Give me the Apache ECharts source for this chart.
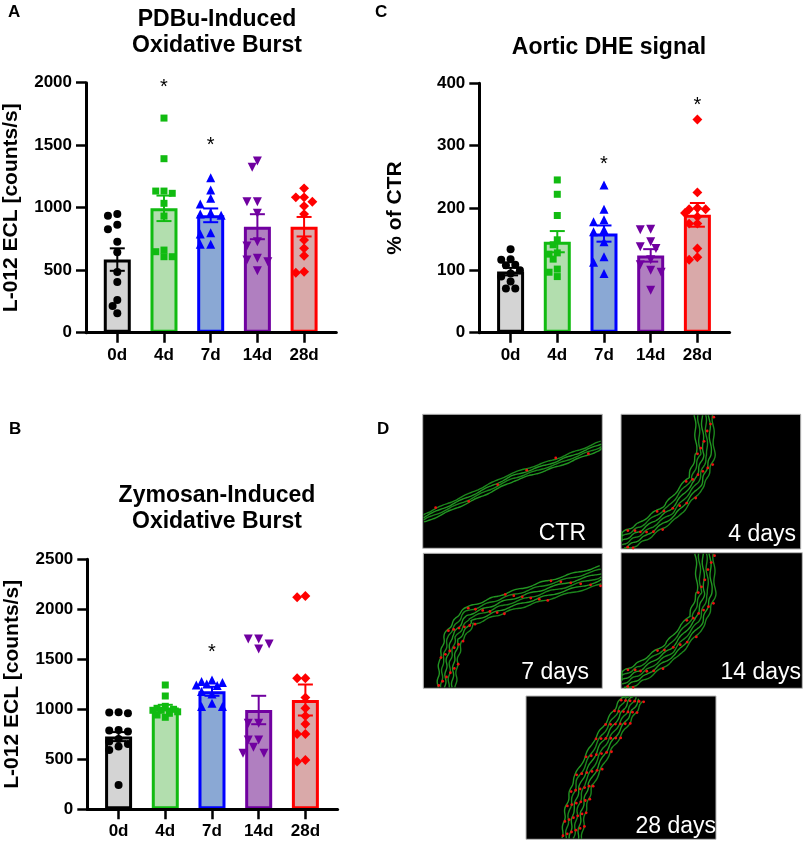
<!DOCTYPE html>
<html>
<head>
<meta charset="utf-8">
<script src="https://cdn.jsdelivr.net/npm/echarts@6/dist/echarts.min.js"></script>
<style>
html, body { margin: 0; padding: 0; background: #fff; }
#main { width: 803px; height: 841px; }
</style>
</head>
<body>
<div id="main"></div>
<script>
var groups = ['0d', '4d', '7d', '14d', '28d'];

// A: PDBu-induced oxidative burst (counts/s)
var pdbu0d = [949, 936, 864, 827, 728, 643, 485, 405, 261, 213, 155];
var pdbu4d = [1717, 1392, 1133, 1133, 1115, 1035, 933, 661, 648, 608, 608];
var pdbu7d = [1240, 1141, 1075, 1029, 960, 950, 940, 800, 789, 707, 707];
var pdbu14d = [1373, 1323, 1048, 1048, 955, 728, 693, 595, 581, 568, 496];
var pdbu28d = [1155, 1083, 1083, 1048, 1013, 949, 741, 675, 616, 488, 480];
var pdbuMean = [585, 995, 939, 848, 848];
var pdbuSem = [90, 102, 55, 100, 78];
var pdbuStars = [[1, 1990], [2, 1533]];

// C: aortic DHE signal (% of CTR)
var dhe0d = [134, 118, 117, 109, 108, 100, 95, 90, 82, 71, 71];
var dhe4d = [245, 222, 188, 149, 141, 128, 126, 118, 102, 97, 90];
var dhe7d = [237, 198, 181, 178, 165, 162, 146, 122, 113, 95];
var dhe14d = [166, 165, 146, 138, 135, 117, 109, 100, 97, 68];
var dhe28d = [342, 225, 200, 198, 198, 192, 186, 175, 175, 135, 121, 117];
var dheMean = [98, 146, 159, 124, 189];
var dheSem = [6, 17, 13, 10, 19];
var dheStars = [[2, 277], [4, 371]];

// B: zymosan-induced oxidative burst (counts/s)
var zym0d = [970, 967, 960, 793, 787, 777, 703, 677, 653, 627, 593, 243];
var zym4d = [1243, 1133, 1030, 1010, 1000, 990, 990, 975, 960, 943, 920];
var zym7d = [1293, 1277, 1267, 1253, 1243, 1237, 1177, 1153, 1060, 1027, 1027];
var zym14d = [1703, 1703, 1653, 1603, 860, 860, 693, 693, 620, 560, 560];
var zym28d = [2133, 2120, 1310, 1310, 1117, 1010, 933, 853, 753, 753, 493, 477];
var zymMean = [727, 1017, 1180, 993, 1093];
var zymSem = [45, 28, 45, 142, 155];
var zymStars = [[2, 1610]];

var FONT = '"Liberation Sans", Arial, Helvetica, sans-serif';
var lineCol = ['#000000', '#11bb11', '#0000ff', '#7000a0', '#ff0000'];
var fillCol = ['#d4d4d4', '#b2deae', '#8aa8d4', '#b07fc0', '#d9a9a9'];
var symbols = ['circle', 'rect', 'triangle', 'triangle', 'rect'];
var symRot = [0, 0, 0, 180, 45];
var symSize = [8, 7, 9, 9, 7];

var X_MIN = -0.67, X_MAX = 4.69, BAND = 46.7;
var PLOT_W = (X_MAX - X_MIN) * BAND;

var myChart = echarts.init(document.getElementById('main'));

// spread points sideways a little (GraphPad style), overlap allowed past the edges
function swarm(vals, gi, pxPerUnit, size) {
    var placed = [];
    var out = [];
    var sorted = vals.slice().sort(function (a, b) { return b - a; });
    var steps = [0];
    for (var k = 1; k <= 3; k++) {
        steps.push(-k * size * 0.55, k * size * 0.55);
    }
    var minD = size * 0.85;
    sorted.forEach(function (v) {
        var y = v * pxPerUnit;
        var best = 0, bestD = -1;
        for (var s = 0; s < steps.length; s++) {
            var dx = steps[s];
            var d = 1e9;
            for (var p = 0; p < placed.length; p++) {
                var ddx = placed[p][0] - dx, ddy = placed[p][1] - y;
                d = Math.min(d, Math.sqrt(ddx * ddx + ddy * ddy));
            }
            if (d >= minD) { best = dx; bestD = d; break; }
            if (d > bestD) { bestD = d; best = dx; }
        }
        placed.push([best, y]);
        out.push([gi + best / BAND, v]);
    });
    return out;
}

function errRender(params, api) {
    var x = api.value(0), m = api.value(1), s = api.value(2);
    var top = api.coord([x, m + s]);
    var bot = api.coord([x, m - s]);
    var half = 7.5;
    var st = { stroke: api.visual('color'), lineWidth: 2 };
    return {
        type: 'group',
        children: [
            { type: 'line', shape: { x1: top[0], y1: top[1], x2: bot[0], y2: bot[1] }, style: st },
            { type: 'line', shape: { x1: top[0] - half, y1: top[1], x2: top[0] + half, y2: top[1] }, style: st },
            { type: 'line', shape: { x1: bot[0] - half, y1: bot[1], x2: bot[0] + half, y2: bot[1] }, style: st }
        ]
    };
}

function starRender(params, api) {
    var p = api.coord([api.value(0), api.value(1)]);
    return {
        type: 'text',
        style: {
            text: '*', x: p[0], y: p[1] + 4,
            textAlign: 'center', textVerticalAlign: 'middle',
            align: 'center', verticalAlign: 'middle',
            fill: '#000', fontSize: 20, fontFamily: FONT
        }
    };
}

function xAx(gi) {
    return {
        gridIndex: gi, type: 'value', min: X_MIN, max: X_MAX, z: 5,
        axisLine: { show: true, onZero: false, lineStyle: { color: '#000', width: 3 } },
        axisTick: { show: true, customValues: [0, 1, 2, 3, 4], length: 10, lineStyle: { color: '#000', width: 2.5 } },
        axisLabel: {
            customValues: [0, 1, 2, 3, 4],
            formatter: function (v) { return groups[Math.round(v)]; },
            margin: 14, color: '#000', fontSize: 17, fontWeight: 'bold', fontFamily: FONT
        },
        splitLine: { show: false }
    };
}

function yAx(gi, max, step, name, gap) {
    return {
        gridIndex: gi, type: 'value', min: 0, max: max, interval: step, z: 5,
        name: name, nameLocation: 'middle', nameGap: gap, nameRotate: 90,
        nameTextStyle: { fontSize: 21, fontWeight: 'bold', color: '#000', fontFamily: FONT },
        axisLine: { show: true, onZero: false, lineStyle: { color: '#000', width: 3 } },
        axisTick: { show: true, length: 10, lineStyle: { color: '#000', width: 2.5 } },
        axisLabel: {
            margin: 14, color: '#000', fontSize: 17, fontWeight: 'bold', fontFamily: FONT,
            formatter: function (v) { return String(v); }
        },
        splitLine: { show: false }
    };
}

function panelSeries(gi, sets, mean, sem, stars, pxPerUnit) {
    var out = [];
    out.push({
        type: 'bar', xAxisIndex: gi, yAxisIndex: gi, barWidth: 27, z: 2,
        data: mean.map(function (m, i) {
            return { value: [i, m], itemStyle: { color: fillCol[i], borderColor: lineCol[i], borderWidth: 3 } };
        })
    });
    out.push({
        type: 'custom', xAxisIndex: gi, yAxisIndex: gi, z: 3, renderItem: errRender,
        encode: { x: 0, y: 1 },
        data: mean.map(function (m, i) {
            return { value: [i, m, sem[i]], itemStyle: { color: lineCol[i] } };
        })
    });
    sets.forEach(function (vals, i) {
        out.push({
            type: 'scatter', xAxisIndex: gi, yAxisIndex: gi, z: 4,
            symbol: symbols[i], symbolRotate: symRot[i], symbolSize: symSize[i],
            itemStyle: { color: lineCol[i], opacity: 1 },
            data: swarm(vals, i, pxPerUnit, symSize[i] + 0.5)
        });
    });
    out.push({
        type: 'custom', xAxisIndex: gi, yAxisIndex: gi, z: 5, renderItem: starRender,
        encode: { x: 0, y: 1 },
        data: stars
    });
    return out;
}

// panel D: stylised fluorescence images of the aortic wall
function vessel(r, anchors, n, gap, amp, dotCount) {
    var els = [];
    els.push({
        type: 'rect', silent: true,
        shape: { x: r[0], y: r[1], width: r[2], height: r[3] },
        style: { fill: '#000', stroke: '#b8b8b8', lineWidth: 1 }
    });
    var pts = [];
    for (var i = 0; i < anchors.length - 1; i++) {
        for (var s = 0; s < 12; s++) {
            var t = s / 12;
            pts.push([
                r[0] + (anchors[i][0] + (anchors[i + 1][0] - anchors[i][0]) * t) * r[2],
                r[1] + (anchors[i][1] + (anchors[i + 1][1] - anchors[i][1]) * t) * r[3]
            ]);
        }
    }
    var last = anchors[anchors.length - 1];
    pts.push([r[0] + last[0] * r[2], r[1] + last[1] * r[3]]);
    var normals = pts.map(function (p, idx) {
        var a = pts[Math.max(idx - 1, 0)], b = pts[Math.min(idx + 1, pts.length - 1)];
        var dx = b[0] - a[0], dy = b[1] - a[1];
        var len = Math.sqrt(dx * dx + dy * dy) || 1;
        return [-dy / len, dx / len];
    });
    function clampPt(x, y) {
        return [Math.min(Math.max(x, r[0] + 1), r[0] + r[2] - 1), Math.min(Math.max(y, r[1] + 1), r[1] + r[3] - 1)];
    }
    for (var k = 0; k < n; k++) {
        var off = (k - (n - 1) / 2) * gap;
        var line = pts.map(function (p, idx) {
            var w = amp * Math.sin(idx * 0.9 + k * 1.7);
            return clampPt(p[0] + normals[idx][0] * (off + w), p[1] + normals[idx][1] * (off + w));
        });
        els.push({
            type: 'polyline', silent: true,
            shape: { points: line, smooth: 0.5 },
            style: { stroke: k % 2 ? '#229622' : '#1c861c', lineWidth: 1.4, fill: null }
        });
    }
    for (var j = 0; j < dotCount; j++) {
        var idx = Math.floor((j + 0.5) / dotCount * (pts.length - 1));
        var o = (((j * 7) % n) - (n - 1) / 2) * gap + (((j * 3) % 3) - 1);
        var c = clampPt(pts[idx][0] + normals[idx][0] * o, pts[idx][1] + normals[idx][1] * o);
        els.push({
            type: 'circle', silent: true,
            shape: { cx: c[0], cy: c[1], r: 1.4 },
            style: { fill: '#ee1111' }
        });
    }
    return els;
}

function imgLabel(txt, x, y) {
    return {
        type: 'text', silent: true,
        style: {
            text: txt, x: x, y: y,
            textAlign: 'right', textVerticalAlign: 'bottom',
            align: 'right', verticalAlign: 'bottom',
            fill: '#fff', fontSize: 23, fontFamily: FONT
        }
    };
}

function letter(txt, x, y) {
    return {
        type: 'text', silent: true,
        style: { text: txt, x: x, y: y, fill: '#000', fontSize: 17, fontWeight: 'bold', fontFamily: FONT }
    };
}

var imgEls = [].concat(
    vessel([422.7, 414.3, 179.6, 134], [[0, 0.78], [0.25, 0.63], [0.5, 0.47], [0.75, 0.36], [1, 0.23]], 4, 2.6, 0.5, 6),
    vessel([621, 414.3, 179.7, 134.7], [[0.46, 0], [0.47, 0.3], [0.42, 0.5], [0.28, 0.72], [0.12, 0.87], [0, 0.96]], 6, 3.6, 0.8, 26),
    vessel([423.3, 553.3, 179, 135], [[1, 0.16], [0.7, 0.27], [0.45, 0.37], [0.25, 0.47], [0.17, 0.62], [0.14, 0.8], [0.13, 1]], 6, 3.6, 0.8, 36),
    vessel([621, 552.7, 181.3, 135.6], [[0.46, 0], [0.47, 0.3], [0.42, 0.5], [0.28, 0.72], [0.12, 0.87], [0, 0.96]], 6, 3.6, 0.8, 26),
    vessel([526, 696, 190, 143.3], [[0.57, 0], [0.5, 0.15], [0.4, 0.35], [0.3, 0.6], [0.26, 0.8], [0.24, 1]], 6, 4, 0.8, 60),
    [
        imgLabel('CTR', 586, 545),
        imgLabel('4 days', 796, 546),
        imgLabel('7 days', 589, 684),
        imgLabel('14 days', 801, 684),
        imgLabel('28 days', 716, 838),
        letter('A', 8, 4),
        letter('C', 375, 4),
        letter('B', 9, 421),
        letter('D', 377, 421)
    ]
);

var titleStyle = { fontSize: 23, fontWeight: 'bold', color: '#000', lineHeight: 26, fontFamily: FONT };

var option = {
    backgroundColor: '#fff',
    animation: false,
    title: [
        { text: 'PDBu-Induced\nOxidative Burst', left: 212, top: 2, textAlign: 'center', textStyle: titleStyle },
        { text: 'Aortic DHE signal', left: 604, top: 30, textAlign: 'center', textStyle: titleStyle },
        { text: 'Zymosan-Induced\nOxidative Burst', left: 212, top: 478, textAlign: 'center', textStyle: titleStyle }
    ],
    grid: [
        { left: 86, top: 82.7, width: PLOT_W, height: 250 },
        { left: 479.3, top: 83.3, width: PLOT_W, height: 249.4 },
        { left: 87.3, top: 559.3, width: PLOT_W, height: 250 }
    ],
    xAxis: [xAx(0), xAx(1), xAx(2)],
    yAxis: [
        yAx(0, 2000, 500, 'L-012 ECL [counts/s]', 64),
        yAx(1, 400, 100, '% of CTR', 74),
        yAx(2, 2500, 500, 'L-012 ECL [counts/s]', 65)
    ],
    series: [].concat(
        panelSeries(0, [pdbu0d, pdbu4d, pdbu7d, pdbu14d, pdbu28d], pdbuMean, pdbuSem, pdbuStars, 250 / 2000),
        panelSeries(1, [dhe0d, dhe4d, dhe7d, dhe14d, dhe28d], dheMean, dheSem, dheStars, 249.4 / 400),
        panelSeries(2, [zym0d, zym4d, zym7d, zym14d, zym28d], zymMean, zymSem, zymStars, 250 / 2500)
    ),
    graphic: { elements: imgEls }
};

myChart.setOption(option);
</script>
</body>
</html>
